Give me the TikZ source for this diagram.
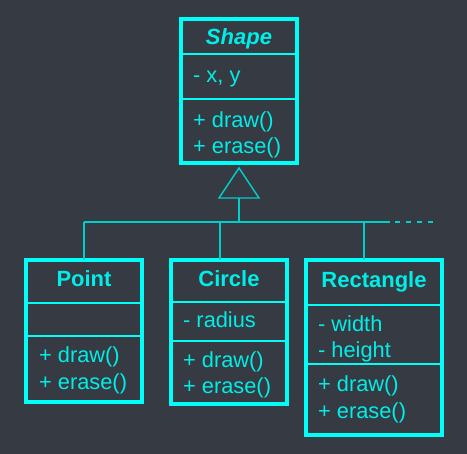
\documentclass[tikz,border=0pt]{standalone}
\usepackage{fontspec}
\setmainfont{Liberation Sans}
\definecolor{bg}{HTML}{363A42}
\definecolor{boxc}{HTML}{00FFF6}
\definecolor{txtc}{HTML}{00EEE8}
\definecolor{linec}{HTML}{00CFCC}
\tikzset{
  umlbox/.style={draw=boxc, line width=4pt, inner sep=0pt, outer sep=0pt},
  divider/.style={draw=boxc, line width=2pt},
  title/.style={text=txtc, font=\fontsize{22}{26}\selectfont\bfseries, anchor=base, inner sep=0pt},
  member/.style={text=txtc, font=\fontsize{21.8}{26}\selectfont, anchor=base west, inner sep=0pt},
  conn/.style={draw=linec, line width=1.4pt},
}
\begin{document}
\begin{tikzpicture}[x=1pt,y=-1pt]
\fill[bg] (0,0) rectangle (467,454);
\useasboundingbox (0,0) rectangle (467,454);
% boxes
\node[umlbox, minimum width=116pt, minimum height=144pt] (shape) at (239,91) {};
\node[umlbox, minimum width=116pt, minimum height=142pt] (point) at (84,331) {};
\node[umlbox, minimum width=116pt, minimum height=144pt] (circle) at (229,332) {};
\node[umlbox, minimum width=136pt, minimum height=175pt] (rect) at (374,347.5) {};
% dividers
\draw[divider] (shape.west |- 0,54) -- (shape.east |- 0,54);
\draw[divider] (shape.west |- 0,99) -- (shape.east |- 0,99);
\draw[divider] (point.west |- 0,303) -- (point.east |- 0,303);
\draw[divider] (point.west |- 0,336) -- (point.east |- 0,336);
\draw[divider] (circle.west |- 0,302) -- (circle.east |- 0,302);
\draw[divider] (circle.west |- 0,341) -- (circle.east |- 0,341);
\draw[divider] (rect.west |- 0,305) -- (rect.east |- 0,305);
\draw[divider] (rect.west |- 0,364) -- (rect.east |- 0,364);
% texts
\node[title, font=\fontsize{22}{26}\selectfont\bfseries\itshape] (t1) at (239,45) {Shape};
\node[member] (s1) at (193,83) {- x, y};
\node[member] (s2) at (193,128) {+ draw()};
\node[member] (s3) at (193,154) {+ erase()};
\node[title] (t2) at (84,287) {Point};
\node[member] (p1) at (39,363) {+ draw()};
\node[member] (p2) at (39,390) {+ erase()};
\node[title] (t3) at (229,287) {Circle};
\node[member] (c1) at (183,328) {- radius};
\node[member] (c2) at (183,368) {+ draw()};
\node[member] (c3) at (183,394) {+ erase()};
\node[title] (t4) at (374,288) {Rectangle};
\node[member] (r1) at (318,332) {- width};
\node[member] (r2) at (318,358) {- height};
\node[member] (r3) at (318,392) {+ draw()};
\node[member] (r4) at (318,419) {+ erase()};
% connectors
\coordinate (apex) at (239,168);
\coordinate (bl) at (219,198);
\coordinate (br) at (259,198);
\coordinate (tb) at (239,198);
\coordinate (hub) at (239,222);
\coordinate (hl) at (84,222);
\coordinate (hc) at (220,222);
\coordinate (hr) at (364,222);
\coordinate (hend) at (390,222);
\coordinate (dstart) at (395,222);
\coordinate (dend) at (433,222);
\draw[conn, line join=miter] (apex) -- (br) -- (bl) -- cycle;
\draw[conn] (tb) -- (hub);
\draw[conn] (hl) -- (hend);
\draw[conn, dash pattern=on 5pt off 6pt] (dstart) -- (dend);
\draw[conn] (hl) -- (hl |- point.north);
\draw[conn] (hc) -- (hc |- circle.north);
\draw[conn] (hr) -- (hr |- rect.north);
\end{tikzpicture}
\end{document}
